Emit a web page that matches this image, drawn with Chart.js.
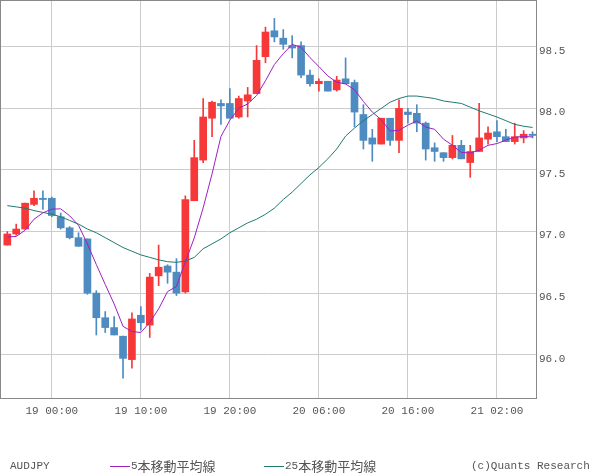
<!DOCTYPE html>
<html>
<head>
<meta charset="utf-8">
<script src="https://cdn.jsdelivr.net/npm/chart.js@4"></script>
<style>
  html, body { margin: 0; padding: 0; background: #fff; }
  #wrap { width: 600px; height: 475px; }
</style>
</head>
<body>
<div id="wrap"><canvas id="myChart" width="600" height="475"></canvas></div>
<script>
// hourly candles, 18 19:00 .. 21 06:00
var opens  = [96.89, 96.98, 97.02, 97.22, 97.27, 97.27, 97.12, 97.03, 96.95, 96.94,
              96.50, 96.30, 96.22, 96.15, 95.96, 96.32, 96.24, 96.64, 96.72, 96.67,
              96.51, 97.25, 97.58, 97.92, 98.04, 98.04, 97.93, 98.06, 98.12, 98.42,
              98.63, 98.57, 98.51, 98.51, 98.27, 98.20, 98.22, 98.15, 98.24, 98.21,
              97.95, 97.76, 97.71, 97.92, 97.74, 97.97, 97.96, 97.88, 97.68, 97.64,
              97.60, 97.70, 97.56, 97.65, 97.75, 97.81, 97.77, 97.73, 97.76, 97.79];
var highs  = [97.00, 97.06, 97.23, 97.33, 97.33, 97.28, 97.15, 97.04, 96.99, 96.94,
              96.52, 96.35, 96.31, 96.15, 96.34, 96.39, 96.66, 96.89, 96.73, 96.78,
              97.29, 97.74, 98.08, 98.06, 98.07, 98.16, 98.10, 98.17, 98.51, 98.66,
              98.73, 98.64, 98.59, 98.54, 98.31, 98.24, 98.22, 98.26, 98.41, 98.23,
              98.03, 97.83, 97.92, 97.92, 98.07, 98.00, 98.03, 97.89, 97.72, 97.64,
              97.78, 97.74, 97.70, 98.04, 97.85, 97.90, 97.83, 97.88, 97.82, 97.81];
var lows   = [96.89, 96.97, 97.02, 97.21, 97.18, 97.12, 97.02, 96.94, 96.88, 96.49,
              96.16, 96.18, 96.16, 95.81, 95.89, 96.20, 96.14, 96.56, 96.58, 96.48,
              96.50, 97.25, 97.56, 97.77, 97.87, 97.92, 97.92, 97.93, 98.12, 98.37,
              98.54, 98.48, 98.41, 98.25, 98.18, 98.14, 98.14, 98.14, 98.20, 97.85,
              97.67, 97.57, 97.71, 97.70, 97.64, 97.88, 97.81, 97.58, 97.57, 97.57,
              97.59, 97.59, 97.44, 97.65, 97.71, 97.73, 97.73, 97.71, 97.72, 97.76];
var closes = [96.98, 97.02, 97.23, 97.27, 97.26, 97.13, 97.03, 96.95, 96.88, 96.50,
              96.30, 96.22, 96.16, 95.97, 96.29, 96.26, 96.63, 96.71, 96.67, 96.50,
              97.26, 97.60, 97.93, 98.05, 98.02, 97.92, 98.08, 98.11, 98.39, 98.62,
              98.58, 98.52, 98.49, 98.27, 98.20, 98.22, 98.14, 98.23, 98.20, 97.97,
              97.74, 97.71, 97.92, 97.74, 98.00, 97.95, 97.88, 97.67, 97.65, 97.60,
              97.70, 97.59, 97.65, 97.76, 97.80, 97.77, 97.73, 97.77, 97.79, 97.78];
var ma5    = [96.956, 96.960, 97.010, 97.100, 97.152, 97.182, 97.184, 97.128, 97.050, 96.898,
              96.732, 96.570, 96.412, 96.230, 96.188, 96.180, 96.262, 96.372, 96.512, 96.554,
              96.754, 96.948, 97.192, 97.468, 97.772, 97.904, 98.000, 98.036, 98.104, 98.224,
              98.356, 98.444, 98.520, 98.496, 98.412, 98.340, 98.264, 98.212, 98.198, 98.152,
              98.056, 97.970, 97.908, 97.816, 97.822, 97.864, 97.898, 97.848, 97.830, 97.750,
              97.700, 97.642, 97.638, 97.660, 97.700, 97.714, 97.742, 97.766, 97.772, 97.768];
var ma25   = [97.21, 97.20, 97.19, 97.17, 97.155, 97.14, 97.12, 97.09, 97.06, 97.02,
              96.99, 96.95, 96.91, 96.87, 96.84, 96.81, 96.79, 96.77, 96.755, 96.75,
              96.76, 96.79, 96.86, 96.90, 96.94, 96.99, 97.03, 97.07, 97.10, 97.14,
              97.19, 97.26, 97.32, 97.39, 97.46, 97.52, 97.59, 97.67, 97.775, 97.84,
              97.90, 97.95, 98.00, 98.05, 98.08, 98.10, 98.10, 98.09, 98.08, 98.06,
              98.05, 98.04, 98.01, 97.98, 97.955, 97.93, 97.90, 97.87, 97.855, 97.845];
var xTickPos    = [5, 15, 25, 35, 45, 55];
var xTickLabels = ["19 00:00", "19 10:00", "19 20:00", "20 06:00", "20 16:00", "21 02:00"];
var yTicks      = [96.0, 96.5, 97.0, 97.5, 98.0, 98.5];

var upColour = "#f73838", downColour = "#4d8bc0";
var gridColour = "#cccccc", borderColour = "#888888", textColour = "#555555";
var monoFont = "'Liberation Mono', 'DejaVu Sans Mono', monospace";

var bodies = [], wicks = [], colours = [], ma5Pts = [], ma25Pts = [];
for (let i = 0; i < closes.length; i++) {
    bodies.push({ x: i, y: [Math.min(opens[i], closes[i]), Math.max(opens[i], closes[i])] });
    wicks.push({ x: i, y: [lows[i], highs[i]] });
    colours.push(closes[i] >= opens[i] ? upColour : downColour);
    ma5Pts.push({ x: i, y: ma5[i] });
    ma25Pts.push({ x: i, y: ma25[i] });
}

var frameAndFooter = {
    id: "frameAndFooter",
    afterDraw: function (chart) {
        var c = chart.ctx, a = chart.chartArea;
        c.save();
        c.strokeStyle = borderColour;
        c.lineWidth = 1;
        c.strokeRect(Math.round(a.left) + 0.5, Math.round(a.top) + 0.5,
            Math.round(a.right - a.left) - 1, Math.round(a.bottom - a.top) - 1);

        var y = 466;
        c.textBaseline = "middle";
        c.fillStyle = textColour;
        c.font = "11px " + monoFont;
        c.fillText("AUDJPY", 10, y);
        c.fillText("(c)Quants Research", 471, y);

        function entry(x, colour, num) {
            c.strokeStyle = colour;
            c.beginPath();
            c.moveTo(x, y + 0.5);
            c.lineTo(x + 20, y + 0.5);
            c.stroke();
            c.fillStyle = textColour;
            c.font = "11px " + monoFont;
            c.fillText(num, x + 21, y);
            var w = c.measureText(num).width;
            c.font = "13px 'Noto Sans CJK JP'";
            c.fillText("本移動平均線", x + 21 + w, y);
        }
        entry(110, "#9c20c4", "5");
        entry(264, "#1f7a70", "25");
        c.restore();
    }
};

var ctx = document.getElementById("myChart").getContext("2d");
var myChart = new Chart(ctx, {
    type: "bar",
    data: {
        datasets: [
            { type: "line", label: "5本移動平均線", data: ma5Pts, borderColor: "#9c20c4",
              borderWidth: 1, pointRadius: 0, tension: 0, order: 0 },
            { type: "line", label: "25本移動平均線", data: ma25Pts, borderColor: "#1f7a70",
              borderWidth: 1, pointRadius: 0, tension: 0, order: 0 },
            { label: "body", data: bodies, backgroundColor: colours, barThickness: 7,
              minBarLength: 1, grouped: false, order: 1 },
            { label: "wick", data: wicks, backgroundColor: colours, barThickness: 1,
              grouped: false, order: 2 }
        ]
    },
    options: {
        responsive: false,
        animation: false,
        layout: { autoPadding: false, padding: 0 },
        plugins: { legend: { display: false }, tooltip: { enabled: false } },
        scales: {
            x: {
                type: "linear",
                min: -0.82,
                max: 59.5,
                offset: false,
                grid: { color: gridColour, drawTicks: false, offset: false },
                border: { display: false },
                afterBuildTicks: function (scale) {
                    scale.ticks = xTickPos.map(v => ({ value: v }));
                },
                afterFit: function (scale) {
                    scale.height = 76;
                    scale.paddingLeft = 0;
                    scale.paddingRight = 0;
                },
                ticks: {
                    padding: 5,
                    maxRotation: 0,
                    autoSkip: false,
                    color: textColour,
                    font: { family: monoFont, size: 11 },
                    callback: function (v) { return xTickLabels[xTickPos.indexOf(v)]; }
                }
            },
            y: {
                position: "right",
                min: 95.64,
                max: 98.88,
                grid: { color: gridColour, drawTicks: false },
                border: { display: false },
                afterBuildTicks: function (scale) {
                    scale.ticks = yTicks.map(v => ({ value: v }));
                },
                afterFit: function (scale) {
                    scale.width = 63;
                    scale.paddingTop = 0;
                    scale.paddingBottom = 0;
                },
                ticks: {
                    padding: 2,
                    labelOffset: 4,
                    color: textColour,
                    font: { family: monoFont, size: 11 },
                    callback: function (v) { return v.toFixed(1); }
                }
            }
        }
    },
    plugins: [frameAndFooter]
});
</script>
</body>
</html>
